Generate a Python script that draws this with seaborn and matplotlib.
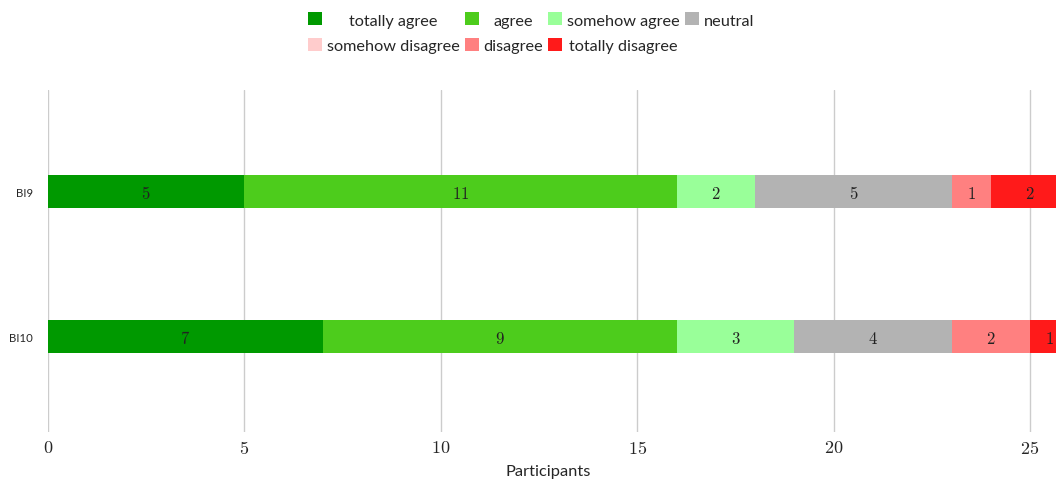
import numpy as np
import pandas as pd
import matplotlib
matplotlib.use("Agg")
import matplotlib.pyplot as plt
from matplotlib.patches import Patch
import seaborn as sns

items = ["BI9", "BI10"]
categories = ["totally agree", "agree", "somehow agree", "neutral",
              "somehow disagree", "disagree", "totally disagree"]
colors = ["#009900", "#4dcc1c", "#99ff99", "#b3b3b3", "#ffcccc", "#ff8080", "#ff1a1a"]
bi9 = [5, 11, 2, 5, 0, 1, 2]
bi10 = [7, 9, 3, 4, 0, 2, 1]
xticks = [0, 5, 10, 15, 20, 25]

sns.set_theme(style="white")
plt.rcParams["font.family"] = ["Lato", "DejaVu Sans"]
plt.rcParams["mathtext.fontset"] = "cm"

vals = np.array([bi9, bi10], dtype=float)
cum = np.cumsum(vals, axis=1)

fig = plt.figure(figsize=(10.56, 4.81), dpi=100)
ax = fig.add_axes([48 / 1056, 1 - 433 / 481, 1 - 48 / 1056, 342 / 481])

for j in reversed(range(len(categories))):
    df = pd.DataFrame({"item": items, "value": cum[:, j]})
    sns.barplot(data=df, x="value", y="item", orient="h", color=colors[j],
                width=0.228, linewidth=0, saturation=1, ax=ax, zorder=3)

for i in range(len(items)):
    for j in range(len(categories)):
        v = vals[i, j]
        if v > 0:
            ax.text(cum[i, j] - v / 2, i + 0.01, r"$%d$" % v, ha="center", va="center",
                    fontsize=12, color="#222222", zorder=5)

ax.set_xlim(0, 25.66)
ax.set_ylim(1.66, -0.70)
ax.set_xticks(xticks)
ax.set_xticklabels([r"$%d$" % t for t in xticks], fontsize=13)
ax.set_yticks(range(len(items)))
ax.set_yticklabels(items, fontsize=8.2)
ax.set_ylabel("")
ax.set_xlabel("Participants", fontsize=11.8)
ax.xaxis.label.set_va("top")
ax.xaxis.set_label_coords((548 - 48) / 1008, -(465 - 433) / 342)
ax.grid(axis="x", color="#cccccc", linewidth=1, zorder=0)
ax.grid(axis="y", visible=False)
ax.set_axisbelow(True)
for s in ax.spines.values():
    s.set_visible(False)
ax.tick_params(axis="x", length=0, pad=5)
ax.tick_params(axis="y", length=0, pad=11)

handles = [Patch(facecolor=c, edgecolor="none", label=l) for c, l in zip(colors, categories)]
order = [0, 4, 1, 5, 2, 6, 3]
leg = fig.legend([handles[k] for k in order], [categories[k] for k in order],
                 loc="upper center", bbox_to_anchor=(531 / 1056, 1.0 - 2 / 481), ncol=4,
                 frameon=False, fontsize=11.7, handlelength=0.86, handleheight=0.86,
                 handletextpad=0.3, columnspacing=0.3, labelspacing=0.62,
                 borderaxespad=0.3)

# centre each legend label within its column
fig.canvas.draw()
renderer = fig.canvas.get_renderer()
texts = leg.get_texts()
widths = [t.get_window_extent(renderer).width for t in texts]
cols = [[0, 1], [2, 3], [4, 5], [6]]
for col in cols:
    mw = max(widths[k] for k in col)
    for k in col:
        texts[k].set_x((mw - widths[k]) / 2)

fig.savefig("out.png", dpi=100)
